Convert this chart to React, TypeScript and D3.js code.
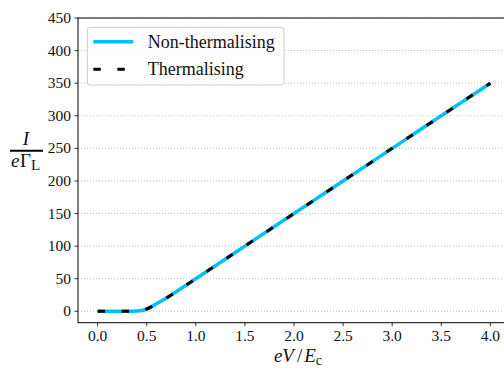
import React from "react";
import * as d3 from "d3";

const voltage = [0.0, 0.1, 0.2, 0.3, 0.35, 0.4, 0.45, 0.5, 0.55, 0.6, 0.7, 0.8, 1.0, 1.5, 2.0, 2.5, 3.0, 3.5, 4.0];
const nonThermal = [0, 0, 0, 0, 0.05, 0.3, 1.2, 3.5, 7.2, 11.5, 20.3, 30.1, 50, 100, 150, 200, 250, 300, 350];
const thermal = [0, 0, 0, 0, 0.05, 0.3, 1.2, 3.5, 7.2, 11.5, 20.3, 30.1, 50, 100, 150, 200, 250, 300, 350];
const xTicks = [0, 0.5, 1.0, 1.5, 2.0, 2.5, 3.0, 3.5, 4.0];
const yTicks = [0, 50, 100, 150, 200, 250, 300, 350, 400, 450];
const seriesNames = ["Non-thermalising", "Thermalising"];

const W = 504;
const H = 371;
const L = 78, R = 510, T = 18, B = 322.7;
const FONT = "Liberation Serif, Times New Roman, serif";

export default function App() {
  const x = d3.scaleLinear().domain([-0.2, 4.2]).range([L, R]);
  const y = d3.scaleLinear().domain([-17.5, 450]).range([B, T]);
  const line = d3
    .line<number>()
    .x((_, i) => x(voltage[i]))
    .y((d) => y(d))
    .curve(d3.curveMonotoneX);

  return (
    <svg
      width={W}
      height={H}
      style={{ position: "absolute", left: 0, top: 0, background: "white", fontFamily: FONT }}
    >
      <defs>
        <clipPath id="plot">
          <rect x={L} y={T} width={R - L} height={B - T} />
        </clipPath>
      </defs>
      {yTicks.map((t) => (
        <line
          key={"g" + t}
          x1={L}
          x2={R}
          y1={y(t)}
          y2={y(t)}
          stroke="#b0b0b0"
          strokeWidth={0.8}
          strokeDasharray="1 2"
        />
      ))}
      <g clipPath="url(#plot)">
        <path d={line(nonThermal) || ""} fill="none" stroke="#00bfff" strokeWidth={3.5} />
        <path
          d={line(thermal) || ""}
          fill="none"
          stroke="#000"
          strokeWidth={3}
          strokeDasharray="7.5 16.5"
        />
      </g>
      <rect x={L} y={T} width={R - L} height={B - T} fill="none" stroke="#000" strokeWidth={1} />
      {yTicks.map((t) => (
        <g key={"y" + t}>
          <line x1={L - 3.5} x2={L} y1={y(t)} y2={y(t)} stroke="#000" strokeWidth={0.8} />
          <text x={L - 7} y={y(t)} dy="0.33em" textAnchor="end" fontSize={15.5} fill="#111">
            {t}
          </text>
        </g>
      ))}
      {xTicks.map((t) => (
        <g key={"x" + t}>
          <line x1={x(t)} x2={x(t)} y1={B} y2={B + 3.5} stroke="#000" strokeWidth={0.8} />
          <text x={x(t)} y={B + 18} textAnchor="middle" fontSize={15.5} fill="#111">
            {t.toFixed(1)}
          </text>
        </g>
      ))}
      <text x={(L + R) / 2 + 4} y={362} textAnchor="middle" fontSize={19} fontStyle="italic" fill="#111">
        eV
        <tspan fontStyle="normal" dx={3}>/</tspan>
        <tspan dx={2}>E</tspan>
        <tspan fontStyle="normal" fontSize={14} dy={3}>c</tspan>
      </text>
      <g fill="#111" fontSize={19}>
        <text x={26} y={145} textAnchor="middle" fontStyle="italic">I</text>
        <line x1={10} x2={43} y1={150.7} y2={150.7} stroke="#000" strokeWidth={2} />
        <text x={11} y={167} fontStyle="italic">
          e<tspan fontStyle="normal" dx={0.5}>Γ</tspan>
          <tspan fontStyle="normal" fontSize={15} dy={3}>L</tspan>
        </text>
      </g>
      <g>
        <rect
          x={87.3}
          y={27.3}
          width={196.7}
          height={57.7}
          rx={3}
          fill="white"
          fillOpacity={0.8}
          stroke="#cccccc"
          strokeWidth={1}
        />
        <line x1={93.3} x2={133.3} y1={41.7} y2={41.7} stroke="#00bfff" strokeWidth={3.5} />
        <line
          x1={93.3}
          x2={133.3}
          y1={69.3}
          y2={69.3}
          stroke="#000"
          strokeWidth={3}
          strokeDasharray="7.5 16.5"
        />
        <text x={147.7} y={48} fontSize={18} fill="#111">{seriesNames[0]}</text>
        <text x={147.7} y={75} fontSize={18} fill="#111">{seriesNames[1]}</text>
      </g>
    </svg>
  );
}
